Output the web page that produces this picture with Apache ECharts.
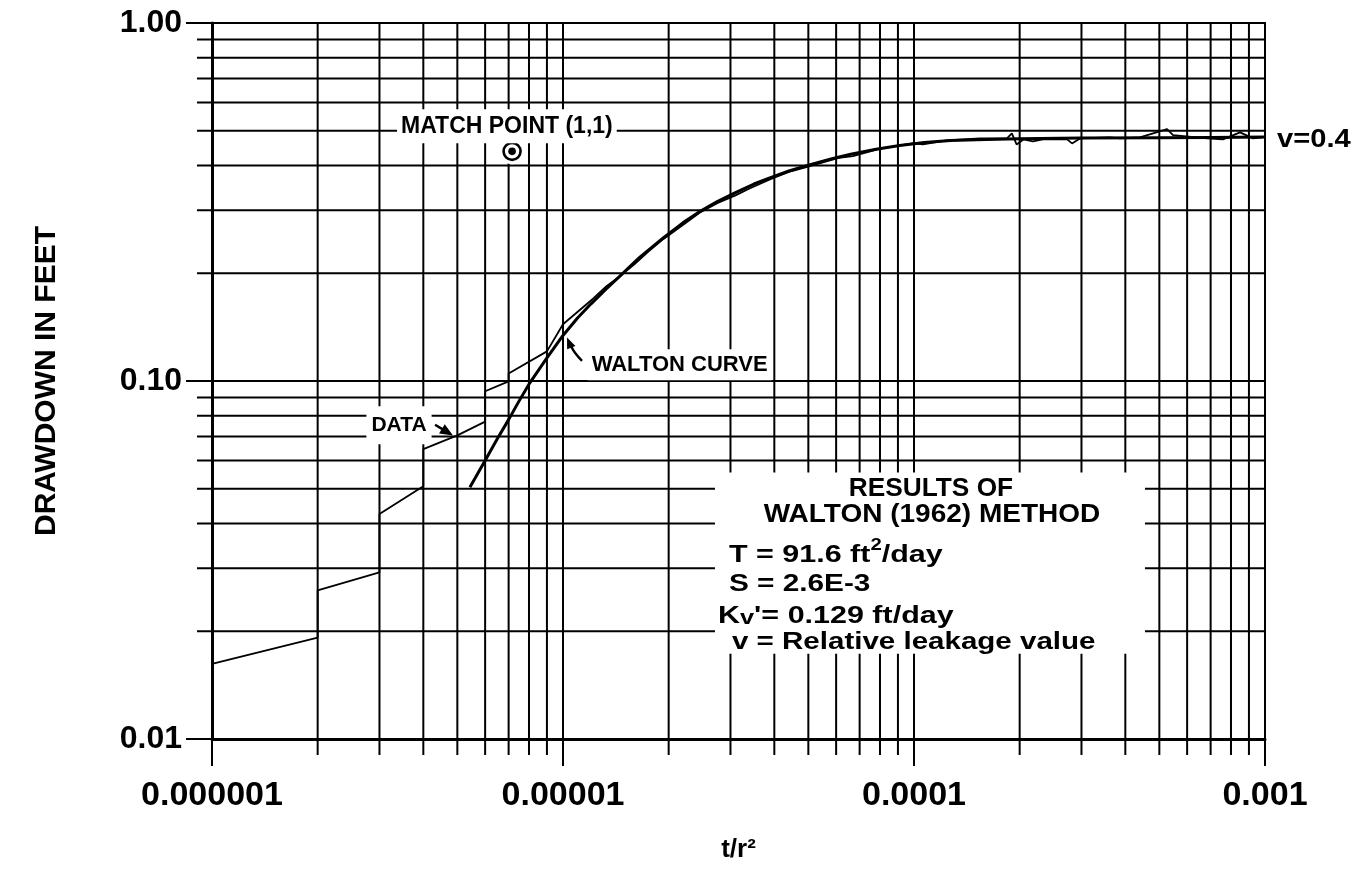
<!DOCTYPE html>
<html>
<head>
<meta charset="utf-8">
<script src="https://cdn.jsdelivr.net/npm/echarts@6/dist/echarts.min.js"></script>
<style>
  html, body { margin: 0; padding: 0; background: #fff; }
  #chart { width: 1359px; height: 874px; }
</style>
</head>
<body>
<div id="chart"></div>
<script>
// Axis ranges and tick labels (log-log paper, 3 x 2 cycles)
const X_MIN = 1e-6, X_MAX = 1e-3;
const Y_MIN = 0.01, Y_MAX = 1;
const xTickLabels = ['0.000001', '0.00001', '0.0001', '0.001'];
const yTickLabels = ['0.01', '0.10', '1.00'];
const xDecades = [1e-6, 1e-5, 1e-4];
const yDecades = [0.01, 0.1];
const cycleMultipliers = [1, 2, 3, 4, 5, 6, 7, 8, 9];

// Walton leaky-aquifer type curve (v = 0.4)
const waltonT = [5.43e-6, 6.0e-6, 6.5e-6, 7.0e-6, 7.5e-6, 8.0e-6, 9.0e-6, 1.0e-5, 1.1e-5, 1.2e-5,
                 1.33e-5, 1.45e-5, 1.65e-5, 1.93e-5, 2.2e-5, 2.46e-5, 2.75e-5, 3.1e-5, 3.5e-5, 3.9e-5,
                 4.4e-5, 5.0e-5, 5.8e-5, 6.6e-5, 7.8e-5, 9.1e-5, 1.07e-4, 1.27e-4, 1.6e-4, 2.0e-4,
                 3.0e-4, 5.0e-4, 7.0e-4, 1.0e-3];
const waltonS = [0.0505, 0.060, 0.069, 0.078, 0.088, 0.098, 0.116, 0.134, 0.150, 0.164,
                 0.181, 0.196, 0.221, 0.251, 0.277, 0.298, 0.317, 0.336, 0.355, 0.370,
                 0.386, 0.401, 0.417, 0.430, 0.444, 0.455, 0.464, 0.470, 0.473, 0.475,
                 0.477, 0.478, 0.479, 0.480];

// Observed drawdown record
const dataT = [1.0e-6, 2.0e-6, 2.0e-6, 3.0e-6, 3.0e-6, 4.0e-6, 4.0e-6, 5.0e-6, 6.0e-6, 6.0e-6,
               7.0e-6, 7.0e-6, 9.0e-6, 1.0e-5, 1.22e-5, 1.33e-5, 1.45e-5, 1.6e-5, 1.75e-5, 1.93e-5,
               2.2e-5, 2.45e-5, 2.75e-5, 3.1e-5, 3.4e-5, 3.9e-5, 4.4e-5, 5.0e-5, 5.5e-5, 6.1e-5,
               6.7e-5, 7.5e-5, 8.0e-5, 9.9e-5, 1.06e-4, 1.24e-4, 1.54e-4, 1.84e-4, 1.90e-4, 1.96e-4,
               2.05e-4, 2.18e-4, 2.33e-4, 2.73e-4, 2.82e-4, 2.97e-4, 3.61e-4, 3.86e-4, 4.40e-4, 5.26e-4,
               5.47e-4, 6.84e-4, 7.59e-4, 8.49e-4, 9.24e-4, 9.87e-4];
const dataS = [0.0162, 0.0192, 0.0260, 0.0292, 0.0425, 0.0508, 0.0645, 0.0705, 0.0770, 0.0936,
               0.0998, 0.105, 0.121, 0.144, 0.170, 0.184, 0.196, 0.212, 0.230, 0.249,
               0.273, 0.295, 0.314, 0.330, 0.345, 0.366, 0.384, 0.397, 0.408, 0.420,
               0.425, 0.438, 0.446, 0.461, 0.458, 0.470, 0.476, 0.476, 0.492, 0.458,
               0.473, 0.467, 0.473, 0.473, 0.461, 0.476, 0.479, 0.476, 0.479, 0.505,
               0.486, 0.476, 0.473, 0.495, 0.476, 0.479];

// Match point and annotations
const matchPoint = [7.16e-6, 0.438];
const annotationText = ['MATCH POINT (1,1)', 'DATA', 'WALTON CURVE'];
const annotationT = [6.92e-6, 3.41e-6, 2.15e-5];
const annotationS = [0.515, 0.0752, 0.111];
const annotationSize = [23, 21, 22];
const curveLabel = 'v=0.4';
const dataArrowT = [4.32e-6, 4.86e-6];
const dataArrowS = [0.0755, 0.0704];
const waltonArrowT = [1.133e-5, 1.082e-5, 1.047e-5, 1.027e-5];
const waltonArrowS = [0.1138, 0.1199, 0.1264, 0.1323];
const resultsBoxT = [2.71e-5, 4.55e-4];
const resultsBoxS = [0.0555, 0.0173];

const FONT = '"Liberation Sans", Arial, Helvetica, sans-serif';

// Grid lines of the log paper (1..9 in every cycle)
const vLines = [];
xDecades.forEach(d => cycleMultipliers.forEach(m => vLines.push([m * d, Y_MIN, m === 1 ? 1 : 0])));
vLines.push([X_MAX, Y_MIN, 1]);
const hLines = [];
yDecades.forEach(d => cycleMultipliers.forEach(m => hLines.push([X_MIN, m * d, m === 1 ? 1 : 0])));
hLines.push([X_MIN, Y_MAX, 1]);

const zip = (a, b) => a.map((v, i) => [v, b[i]]);

function renderVGrid(params, api) {
  const x = api.value(0);
  const major = api.value(2) === 1;
  const b = api.coord([x, Y_MIN]);
  const t = api.coord([x, Y_MAX]);
  return { type: 'line', shape: { x1: b[0], y1: b[1] + (major ? 27 : 16), x2: t[0], y2: t[1] - 1 },
           style: { stroke: '#000', lineWidth: 2 } };
}
function renderHGrid(params, api) {
  const y = api.value(1);
  const major = api.value(2) === 1;
  const l = api.coord([X_MIN, y]);
  const r = api.coord([X_MAX, y]);
  return { type: 'line', shape: { x1: l[0] - (major ? 26 : 15), y1: l[1], x2: r[0] + 1, y2: r[1] },
           style: { stroke: '#000', lineWidth: 2 } };
}

function arrowShape(pts, smooth, headLen, headHalf) {
  const n = pts.length;
  const tip = pts[n - 1], prev = pts[n - 2];
  const dx = tip[0] - prev[0], dy = tip[1] - prev[1];
  const len = Math.hypot(dx, dy) || 1;
  const ux = dx / len, uy = dy / len;
  const bx = tip[0] - ux * headLen, by = tip[1] - uy * headLen;
  const shaft = pts.slice(0, n - 1).concat([[bx + ux * 2, by + uy * 2]]);
  return [
    { type: 'polyline', shape: { points: shaft, smooth: smooth },
      style: { stroke: '#000', lineWidth: 2.4, fill: null } },
    { type: 'polygon', shape: { points: [tip, [bx - uy * headHalf, by + ux * headHalf], [bx + uy * headHalf, by - ux * headHalf]] },
      style: { fill: '#000' } }
  ];
}

const arrows = [zip(dataArrowT, dataArrowS), zip(waltonArrowT, waltonArrowS)];
const pads = [[6, 4, 5, 4], [9, 5, 8, 5], [6, 4, 3, 4]];

const chart = echarts.init(document.getElementById('chart'), null, { renderer: 'canvas' });

chart.setOption({
  animation: false,
  backgroundColor: '#fff',
  grid: { left: 212, right: 94, top: 23, bottom: 135 },
  xAxis: {
    type: 'log', logBase: 10, min: X_MIN, max: X_MAX,
    name: 't/r²', nameLocation: 'middle', nameGap: 98,
    nameTextStyle: { fontSize: 26, fontWeight: 'bold', fontFamily: FONT, color: '#000' },
    axisLine: { onZero: false, lineStyle: { color: '#000', width: 3 } },
    axisTick: { show: false },
    splitLine: { show: false },
    axisLabel: {
      margin: 40, fontSize: 34, fontWeight: 'bold', fontFamily: FONT, color: '#000',
      formatter: v => xTickLabels[Math.round(Math.log10(v)) + 6] || ''
    }
  },
  yAxis: {
    type: 'log', logBase: 10, min: Y_MIN, max: Y_MAX,
    name: 'DRAWDOWN IN FEET', nameLocation: 'middle', nameGap: 150,
    nameTextStyle: { fontSize: 30, fontWeight: 'bold', fontFamily: FONT, color: '#000' },
    axisLine: { lineStyle: { color: '#000', width: 3 } },
    axisTick: { show: false },
    splitLine: { show: false },
    axisLabel: {
      margin: 30, fontSize: 32, fontWeight: 'bold', fontFamily: FONT, color: '#000',
      formatter: v => yTickLabels[Math.round(Math.log10(v)) + 2] || ''
    }
  },
  series: [
    { type: 'custom', name: 'vertical rulings', clip: false, silent: true, z: 1,
      dimensions: ['x', 'y', 'major'], encode: { x: 0, y: 1 },
      renderItem: renderVGrid, data: vLines },
    { type: 'custom', name: 'horizontal rulings', clip: false, silent: true, z: 1,
      dimensions: ['x', 'y', 'major'], encode: { x: 0, y: 1 },
      renderItem: renderHGrid, data: hLines },
    { type: 'line', name: 'Walton curve', data: zip(waltonT, waltonS), z: 10,
      showSymbol: false, smooth: false, silent: true,
      lineStyle: { color: '#000', width: 3, join: 'round' } },
    { type: 'line', name: 'Data', data: zip(dataT, dataS), z: 11,
      showSymbol: false, silent: true,
      lineStyle: { color: '#000', width: 1.8 } },
    { type: 'custom', name: 'Match point', clip: false, silent: true, z: 12,
      data: [matchPoint],
      renderItem: (params, api) => {
        const p = api.coord([api.value(0), api.value(1)]);
        return { type: 'group', children: [
          { type: 'circle', shape: { cx: p[0], cy: p[1], r: 13 }, style: { fill: '#fff' } },
          { type: 'circle', shape: { cx: p[0], cy: p[1], r: 8.5 }, style: { fill: '#fff', stroke: '#000', lineWidth: 2.6 } },
          { type: 'circle', shape: { cx: p[0], cy: p[1], r: 3.8 }, style: { fill: '#000' } }
        ] };
      } },
    { type: 'custom', name: 'annotations', clip: false, silent: true, z: 13,
      data: zip(annotationT, annotationS),
      renderItem: (params, api) => {
        const i = params.dataIndex;
        const p = api.coord([api.value(0), api.value(1)]);
        return { type: 'text', x: p[0], y: p[1], style: {
          text: annotationText[i], font: 'bold ' + annotationSize[i] + 'px ' + FONT, fill: '#000',
          align: 'center', verticalAlign: 'middle', backgroundColor: '#fff', padding: pads[i] } };
      } },
    { type: 'custom', name: 'curve parameter', clip: false, silent: true, z: 13,
      data: [[waltonT[waltonT.length - 1], waltonS[waltonS.length - 1]]],
      renderItem: (params, api) => {
        const p = api.coord([api.value(0), api.value(1)]);
        return { type: 'text', x: p[0] + 12, y: p[1] + 3, scaleX: 1.12, style: {
          text: curveLabel, font: 'bold 26px ' + FONT, fill: '#000', align: 'left', verticalAlign: 'middle' } };
      } },
    { type: 'custom', name: 'leader arrows', clip: false, silent: true, z: 14,
      data: arrows.map(a => a[a.length - 1]),
      renderItem: (params, api) => {
        const pts = arrows[params.dataIndex].map(p => api.coord(p));
        return { type: 'group', children: params.dataIndex === 0
          ? arrowShape(pts, 0, 13, 5.5)
          : arrowShape(pts, 0.5, 11, 4.5) };
      } }
  ]
});

// Results panel, anchored to its corners in data space
function drawResults() {
  const tl = chart.convertToPixel({ xAxisIndex: 0, yAxisIndex: 0 }, [resultsBoxT[0], resultsBoxS[0]]);
  const br = chart.convertToPixel({ xAxisIndex: 0, yAxisIndex: 0 }, [resultsBoxT[1], resultsBoxS[1]]);
  const L = tl[0], T = tl[1], W = br[0] - tl[0], H = br[1] - tl[1];
  const cx = L + W / 2;
  const txt = (x, y, text, size, align, sx, extra) => ({
    type: 'text', z: 6, silent: true, x: x, y: y, scaleX: sx,
    style: Object.assign({
      text: text, x: 0, y: 0, fill: '#000',
      font: 'bold ' + size + 'px ' + FONT,
      textAlign: align, textVerticalAlign: 'middle', align: align, verticalAlign: 'middle'
    }, extra || {})
  });
  const main = { fontSize: 24, fontWeight: 'bold', fontFamily: FONT, fill: '#000', lineHeight: 30, verticalAlign: 'bottom' };
  chart.setOption({
    graphic: { elements: [
      { type: 'rect', z: 5, silent: true, shape: { x: L, y: T, width: W, height: H }, style: { fill: '#fff' } },
      txt(cx + 1, T + 17, 'RESULTS OF', 25, 'center', 1.05),
      txt(cx + 2, T + 43, 'WALTON (1962) METHOD', 25, 'center', 1.12),
      txt(L + 14, T + 80, '{n|T = 91.6 ft}{s|2}{n|/day}', 24, 'left', 1.27, {
        rich: { n: main, s: { fontSize: 16, fontWeight: 'bold', fontFamily: FONT, fill: '#000', lineHeight: 22, verticalAlign: 'top' } }
      }),
      txt(L + 14, T + 112, 'S = 2.6E-3', 24, 'left', 1.24),
      txt(L + 3, T + 141, "{n|K}{b|v}{n|'= 0.129 ft/day}", 24, 'left', 1.27, {
        rich: { n: main, b: { fontSize: 20, fontWeight: 'bold', fontFamily: FONT, fill: '#000', lineHeight: 16, verticalAlign: 'bottom' } }
      }),
      txt(L + 17, T + 170, 'v = Relative leakage value', 24, 'left', 1.23)
    ] }
  });
}
drawResults();
</script>
</body>
</html>
